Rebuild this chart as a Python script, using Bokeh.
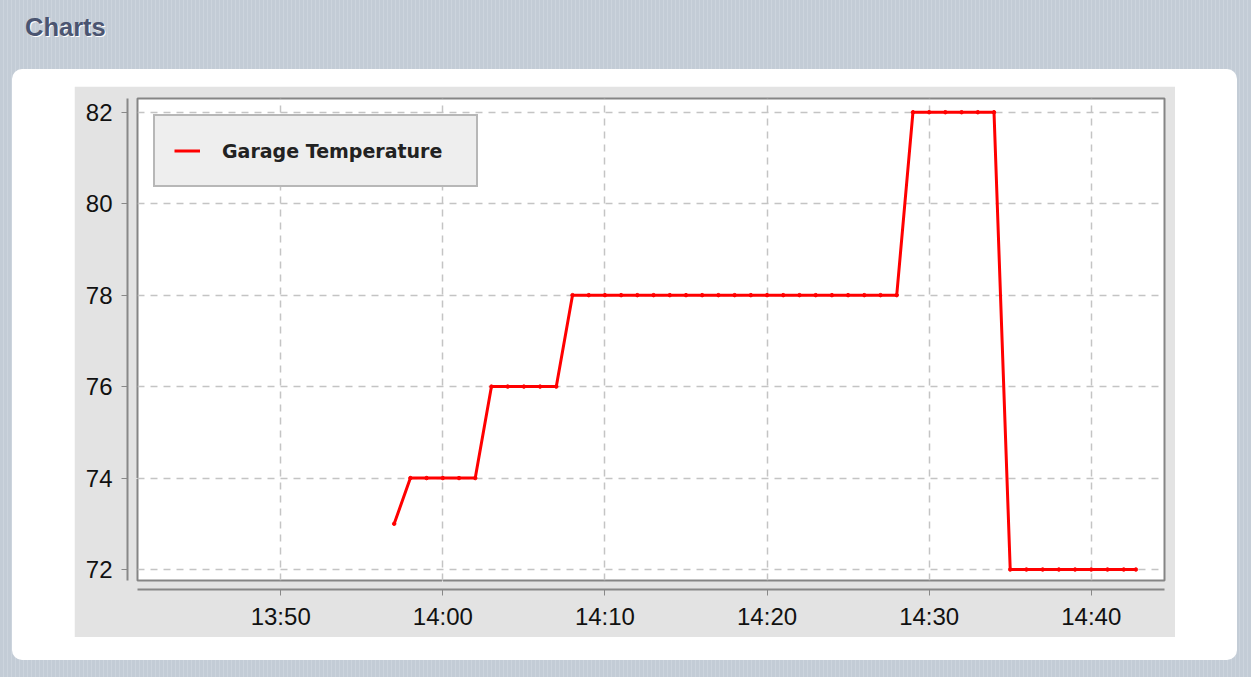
import pandas as pd
from bokeh.plotting import figure
from bokeh.models import (Range1d, LinearAxis, FixedTicker, DatetimeTickFormatter,
                          CustomJSTickFormatter, Grid, Div)
from bokeh.layouts import column
from bokeh.embed import file_html
from bokeh.resources import INLINE

# ---- data ----
day = "2024-01-01 "
times = ["13:57", "13:58", "13:59", "14:00", "14:01", "14:02", "14:03", "14:04",
         "14:05", "14:06", "14:07", "14:08", "14:09", "14:10", "14:11", "14:12",
         "14:13", "14:14", "14:15", "14:16", "14:17", "14:18", "14:19", "14:20",
         "14:21", "14:22", "14:23", "14:24", "14:25", "14:26", "14:27", "14:28",
         "14:29", "14:30", "14:31", "14:32", "14:33", "14:34", "14:35", "14:36",
         "14:37", "14:38", "14:39", "14:40", "14:41", "14:42", "14:42:45"]
temps = [73, 74, 74, 74, 74, 74, 76, 76,
         76, 76, 76, 78, 78, 78, 78, 78,
         78, 78, 78, 78, 78, 78, 78, 78,
         78, 78, 78, 78, 78, 78, 78, 78,
         82, 82, 82, 82, 82, 82, 72, 72,
         72, 72, 72, 72, 72, 72, 72]
x_tick_labels = ["13:50", "14:00", "14:10", "14:20", "14:30", "14:40"]
y_ticks = [72, 74, 76, 78, 80, 82]
series_name = "Garage Temperature"
x_start, x_end = "13:41:10", "14:44:31"
y_start, y_end = 71.76, 82.30

xs = [pd.Timestamp(day + t) for t in times]
x_tick_ms = [pd.Timestamp(day + t).value // 10**6 for t in x_tick_labels]

CHART_BG = "#e3e3e3"

p = figure(width=1101, height=551, output_backend="svg", toolbar_location=None,
           x_axis_type=None, y_axis_type=None,
           x_range=Range1d(pd.Timestamp(day + x_start), pd.Timestamp(day + x_end)),
           y_range=Range1d(y_start, y_end),
           min_border_left=63, min_border_right=11, min_border_top=12, min_border_bottom=57)
p.margin = (17, 62, 23, 62)
p.border_fill_color = CHART_BG
p.background_fill_color = "#ffffff"
p.outline_line_color = "#858585"
p.outline_line_width = 2

xticker = FixedTicker(ticks=x_tick_ms)
yticker = FixedTicker(ticks=y_ticks)

def spacer(extent, one_tick):
    # an invisible axis that only reserves room between the plot and the real axis
    return LinearAxis(ticker=FixedTicker(ticks=[one_tick]), axis_line_color=None,
                      formatter=CustomJSTickFormatter(code="return ''"),
                      major_tick_out=extent, major_tick_in=0, major_label_standoff=0,
                      major_tick_line_color=CHART_BG, minor_tick_line_color=None,
                      minor_tick_out=0, major_label_text_font_size="1px",
                      major_label_text_color=CHART_BG)

fmt = DatetimeTickFormatter(milliseconds="%H:%M", seconds="%H:%M", minsec="%H:%M",
                            minutes="%H:%M", hourmin="%H:%M", hours="%H:%M",
                            days="%H:%M", months="%H:%M", years="%H:%M")

def style(ax):
    ax.axis_line_color = "#888888"
    ax.axis_line_width = 2
    ax.major_tick_line_color = "#888888"
    ax.major_tick_line_width = 1
    ax.major_tick_out = 6
    ax.major_tick_in = 0
    ax.minor_tick_line_color = None
    ax.major_label_text_font = "Liberation Sans"
    ax.major_label_text_font_size = "24px"
    ax.major_label_text_color = "#111111"

xaxis = LinearAxis(ticker=xticker, formatter=fmt)
style(xaxis)
xaxis.major_label_standoff = 7
yaxis = LinearAxis(ticker=yticker)
style(yaxis)
yaxis.major_label_standoff = 9

p.add_layout(spacer(9, x_tick_ms[1]), "below")
p.add_layout(xaxis, "below")
p.add_layout(spacer(10, y_ticks[1]), "left")
p.add_layout(yaxis, "left")

for dim, tk in ((0, xticker), (1, yticker)):
    g = Grid(dimension=dim, ticker=tk, grid_line_color="#c4c4c4",
             grid_line_width=1.5, grid_line_dash="7 6")
    p.add_layout(g, "center")

p.line(xs, temps, line_color="#ff0000", line_width=3, legend_label=series_name)
p.scatter(xs, temps, size=3.5, color="#ff0000")

lg = p.legend[0]
lg.location = "top_left"
lg.margin = 16
lg.padding = 19
lg.glyph_width = 26
lg.glyph_height = 31
lg.label_height = 31
lg.label_width = 235
lg.label_standoff = 22
lg.label_text_font = "DejaVu Sans"
lg.label_text_font_style = "bold"
lg.label_text_font_size = "19px"
lg.label_text_color = "#222222"
lg.border_line_color = "#808080"
lg.border_line_width = 2
lg.background_fill_color = "#eeeeee"
lg.background_fill_alpha = 1

title = Div(text="Charts", width=1208, height=60, margin=(1, 0, 0, 17),
            styles={"font-family": "'Liberation Sans', Arial, sans-serif",
                    "font-weight": "bold", "font-size": "25.5px",
                    "color": "#4b5571", "text-shadow": "1px 1px 0 #ffffff"})
panel = column(p, margin=(0, 0, 0, 4),
               styles={"background-color": "#ffffff", "border-radius": "10px"})
root = column(title, panel, margin=(8, 0, 0, 8))

html = file_html(root, INLINE)
css = ("<style>html,body{background-color:#c6cfd9;"
       "background-image:repeating-linear-gradient(90deg,#c3ccd6 0px,#c3ccd6 3px,"
       "#ccd4dd 3px,#ccd4dd 4px);}</style>")
html = html.replace("</head>", css + "</head>", 1)
open("out.html", "w").write(html)
